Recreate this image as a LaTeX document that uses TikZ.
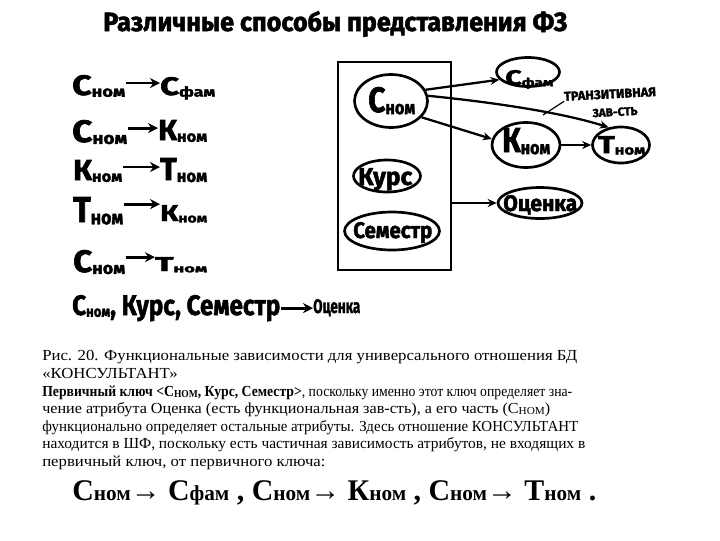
\documentclass[tikz,border=0pt]{standalone}
\usepackage{fontspec}
\usepackage{graphicx}
\setmainfont{Liberation Serif}
\newfontfamily\handfont{Fira Sans}[BoldFeatures={FakeBold=2}]
\usetikzlibrary{shapes.geometric,arrows.meta}
\newlength\px \setlength\px{0.75pt}
\newlength\capw
\newsavebox\capbox
\newcommand\hwr[3]{\resizebox{#1\px}{#2\px}{\handfont\bfseries\fontsize{24}{24}\selectfont #3}}
\newcommand\hsb[2]{#1{\fontsize{13}{13}\selectfont\raisebox{-1.5pt}{#2}}}
\newcommand\capfont{\fontsize{11.5}{12}\selectfont}
\newcommand\capsb[1]{\raisebox{-1pt}{\fontsize{8}{8}\selectfont #1}}
\newcommand\capl[2]{\resizebox{#1\px}{\height}{\capfont #2}}
\newcommand\fsb[1]{{\fontsize{16}{16}\selectfont #1}}
\tikzset{
 ell/.style={draw, ellipse, line width=2pt, inner sep=0pt},
 arr/.style={line width=1.7pt, -{Stealth[length=6.75pt,width=6pt]}},
 harr/.style={line width=2.1pt, -{Stealth[length=7.5pt,width=7.5pt]}},
 hw/.style={inner sep=0pt, anchor=base west},
 tlabel/.style={rotate=3, inner sep=0pt},
}
\begin{document}
\sbox\capbox{\capfont Рис. 20. Функциональные зависимости для универсального отношения БД}%
\setlength\capw{\wd\capbox}%
\pgfmathsetmacro\capsx{401.25/\capw}%
\begin{tikzpicture}[x=0.75pt,y=-0.75pt]
\fill[white] (0,0) rectangle (720,540);
\useasboundingbox (0,0) rectangle (720,540);
% title
\node[hw] (title) at (103,31) {\hwr{464}{20}{Различные способы представления ФЗ}};
% left rows
\node[hw] (l1) at (72,95) {\hwr{53}{20}{\hsb{С}{ном}}};
\node[hw] (r1) at (160,95) {\hwr{55}{18}{\hsb{С}{фам}}};
\node[hw] (l2) at (72,142) {\hwr{55}{22}{\hsb{С}{ном}}};
\node[hw] (r2) at (158,140) {\hwr{49}{20}{\hsb{К}{ном}}};
\node[hw] (l3) at (73,180) {\hwr{49}{20}{\hsb{К}{ном}}};
\node[hw] (r3) at (160,180) {\hwr{47}{22}{\hsb{Т}{ном}}};
\node[hw] (l4) at (73,222) {\hwr{50}{25}{\hsb{Т}{ном}}};
\node[hw] (r4) at (160,221) {\hwr{47}{16}{\hsb{К}{ном}}};
\node[hw] (l5) at (73,272) {\hwr{52}{22}{\hsb{С}{ном}}};
\node[hw] (r5) at (155,271) {\hwr{52}{14}{\hsb{Т}{ном}}};
\node[hw] (l6) at (72,315) {\hwr{208}{20}{\hsb{С}{ном}, Курс, Семестр}};
\node[hw] (r6) at (313,313) {\hwr{47}{14}{Оценка}};
\coordinate (a1) at ([yshift=2.2pt]l1.east); \draw[harr] (a1) -- (a1 -| r1.west);
\coordinate (a2) at ([yshift=3pt]l2.east); \draw[harr] (a2) -- (a2 -| r2.west);
\coordinate (a3) at ([yshift=3pt]l3.east); \draw[harr] (a3) -- (a3 -| r3.west);
\coordinate (a4) at ([yshift=5pt]l4.east); \draw[harr] (a4) -- (a4 -| r4.west);
\coordinate (a5) at ([yshift=3.7pt]l5.east); \draw[harr] (a5) -- (a5 -| r5.west);
\coordinate (a6) at ([yshift=0pt]l6.east); \draw[harr] (a6) -- (a6 -| r6.west);
% right diagram
\node[draw, line width=1.5pt, minimum width=84.75pt, minimum height=156pt, inner sep=0] (box) at (394.5,166) {};
\node[ell, minimum width=54.75pt, minimum height=39.75pt] (Cnom) at (391,101) {};
\node[hw] (Cnomt) at (368,112) {\hwr{47}{25}{\hsb{С}{ном}}};
\node[ell, minimum width=47.25pt, minimum height=21.75pt] (Sfam) at (528,72) {};
\node[hw] (Sfamt) at (505,85) {\hwr{48}{15}{\hsb{С}{фам}}};
\node[ell, minimum width=51pt, minimum height=33.75pt] (Knom) at (526,145) {};
\node[hw] (Knomt) at (502,152) {\hwr{48}{24}{\hsb{К}{ном}}};
\node[ell, minimum width=42.75pt, minimum height=27pt] (Tnom) at (621,145) {};
\node[hw] (Tnomt) at (598,153) {\hwr{47}{17}{\hsb{Т}{ном}}};
\node[ell, minimum width=50.25pt, minimum height=24pt] (Kurs) at (387,176) {};
\node[hw] (Kurst) at (358,185) {\hwr{54}{17}{Курс}};
\node[ell, minimum width=71.25pt, minimum height=28.5pt] (Sem) at (392,231) {};
\node[hw] (Semt) at (353,238) {\hwr{79}{16}{Семестр}};
\node[ell, minimum width=63pt, minimum height=23.25pt] (Oc) at (540,203) {};
\node[hw] (Oct) at (503,211) {\hwr{74}{16}{Оценка}};
\draw[arr] (Cnom.18) -- (Sfam.195);
\draw[arr] (Cnom.-28) -- (Knom.170);
\draw[arr] (Cnom.8) .. controls (490,102) and (560,112) .. (Tnom.125);
\draw[arr] (Knom.east) -- (Tnom.west);
\draw[arr] (box.east |- Oc.west) -- (Oc.west);
\node[tlabel] (trans1) at (610,94) {\resizebox{92\px}{!}{\handfont\bfseries\fontsize{8}{8}\selectfont ТРАНЗИТИВНАЯ}};
\node[tlabel] (trans2) at (615,112) {\resizebox{45\px}{!}{\handfont\bfseries\fontsize{8}{8}\selectfont ЗАВ-СТЬ}};
\coordinate (lead) at (543,115);
\draw[line width=0.9pt] (trans1.south west) -- (lead);
% caption
\node[hw] (c1) at (42,360) {\capl{535}{Рис. 20. Функциональные зависимости для универсального отношения БД}};
\node[hw] (c2) at (42,378) {\scalebox{\capsx}[1]{\capfont «КОНСУЛЬТАНТ»}};
\node[hw] (c3) at (42,396) {\capl{530}{\textbf{Первичный ключ <С\capsb{НОМ}, Курс, Семестр>}, поскольку именно этот ключ определяет зна-}};
\node[hw] (c4) at (42,413) {\capl{508}{чение атрибута Оценка (есть функциональная зав-сть), а его часть (С\capsb{НОМ})}};
\node[hw] (c5) at (42,431) {\capl{536}{функционально определяет остальные атрибуты. Здесь отношение КОНСУЛЬТАНТ}};
\node[hw] (c6) at (42,448) {\capl{543}{находится в ШФ, поскольку есть частичная зависимость атрибутов, не входящих в}};
\node[hw] (c7) at (42,466) {\scalebox{\capsx}[1]{\capfont первичный ключ, от первичного ключа:}};
% formula
\node[hw] (formula) at (72,500) {\resizebox{524\px}{\height}{\fontsize{22.5}{24}\selectfont\bfseries С\fsb{ном}→ С\fsb{фам} , С\fsb{ном}→ К\fsb{ном} , С\fsb{ном}→ Т\fsb{ном} .}};
\end{tikzpicture}
\end{document}
